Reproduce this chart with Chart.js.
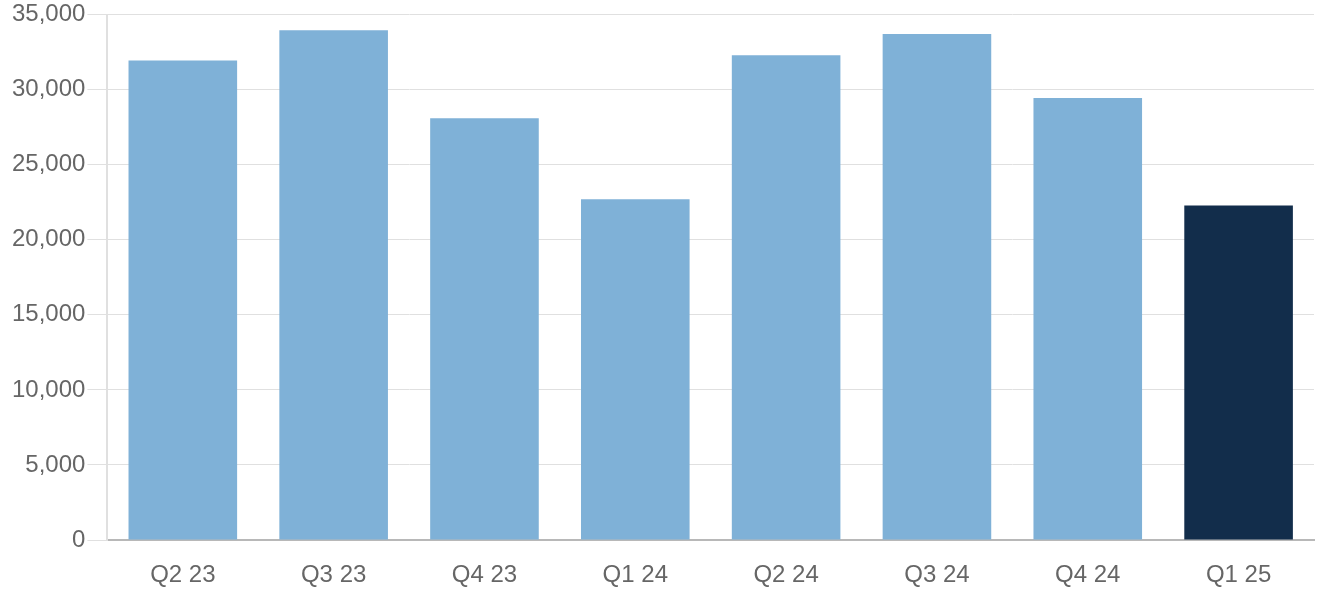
<!DOCTYPE html>
<html>
<head>
<meta charset="utf-8">
<script src="https://cdn.jsdelivr.net/npm/chart.js@4"></script>
<style>
  html, body { margin: 0; padding: 0; background: #fff; }
  #wrap { width: 1320px; height: 600px; }
</style>
</head>
<body>
<div id="wrap"><canvas id="myChart"></canvas></div>
<script>
const quarters = ["Q2 23", "Q3 23", "Q4 23", "Q1 24", "Q2 24", "Q3 24", "Q4 24", "Q1 25"];
const volumes = [31950, 33950, 28100, 22700, 32300, 33700, 29450, 22280];
const barColors = ["#7fb1d7", "#7fb1d7", "#7fb1d7", "#7fb1d7", "#7fb1d7", "#7fb1d7", "#7fb1d7", "#122d4b"];

Chart.defaults.font.family = "'Liberation Sans', Arial, sans-serif";
Chart.defaults.font.size = 24;
Chart.defaults.color = "#666";

new Chart(document.getElementById("myChart"), {
  type: "bar",
  data: {
    labels: quarters,
    datasets: [
      {
        data: volumes,
        backgroundColor: barColors,
        borderWidth: 0,
      },
    ],
  },
  options: {
    responsive: true,
    maintainAspectRatio: false,
    animation: false,
    layout: { padding: { top: 0, right: 6, left: 10, bottom: 0 } },
    plugins: {
      legend: { display: false },
      tooltip: { enabled: false },
    },
    scales: {
      x: {
        grid: { color: "transparent", drawTicks: false },
        border: { color: "#b8b8b8", width: 2 },
        ticks: { padding: 21 },
        afterFit: (scale) => { scale.height = 60; },
      },
      y: {
        min: 0,
        max: 35000,
        grid: { color: "#e0e0e0", tickLength: 20, tickColor: "#e0e0e0" },
        border: { color: "#e0e0e0", width: 2 },
        ticks: {
          stepSize: 5000,
          padding: 2,
          font: { lineHeight: 1.05 },
          callback: (v) => v.toLocaleString("en-US"),
        },
      },
    },
  },
});
</script>
</body>
</html>
